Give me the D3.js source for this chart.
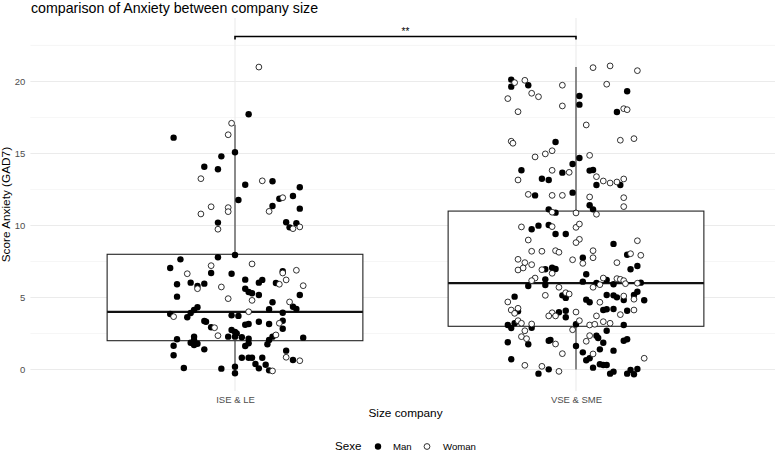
<!DOCTYPE html>
<html>
<head>
<meta charset="utf-8">
<script src="https://cdn.jsdelivr.net/npm/d3@7"></script>
<style>
  body { margin: 0; background: #fff; }
  svg { font-family: "Liberation Sans", Arial, sans-serif; }
</style>
</head>
<body>
<div id="chart"></div>
<script>
// categories and summary stats of the boxplots
const groups = ["ISE & LE", "VSE & SME"];
const q1 = [2, 3];
const medians = [4, 6];
const q3 = [8, 11];
const whiskerLow = [0, 0];
const whiskerHigh = [17, 21];
const yTicks = [0, 5, 10, 15, 20];
const yMinorTicks = [2.5, 7.5, 12.5, 17.5, 22.5];
const sexes = ["Man", "Woman"];
const signif = "**";

// jittered points: [jitter offset (category units), score]
const iseMan = [
  [0.04, 17.72], [-0.18, 16.1], [0.00, 15.08], [-0.04, 14.8], [-0.09, 14.08], [-0.05, 13.9],
  [0.11, 13.07], [0.03, 12.83], [0.19, 12.65], [0.17, 12.05], [0.13, 11.86], [0.01, 11.77],
  [0.11, 11.35], [0.19, 11.17], [-0.05, 10.2], [0.15, 10.22], [0.16, 9.87], [0.18, 10.15],
  [0.00, 7.95], [-0.16, 7.65], [-0.05, 7.79], [-0.19, 7.05], [-0.07, 6.70], [-0.01, 6.65],
  [0.14, 6.82], [0.03, 6.24], [-0.17, 5.92], [-0.13, 6.03], [-0.11, 5.80], [-0.09, 5.96],
  [0.07, 6.03], [0.08, 6.22], [0.12, 6.01], [0.03, 5.61], [0.04, 5.38], [0.05, 5.29],
  [0.07, 5.17], [-0.17, 5.06], [0.19, 5.17], [0.11, 4.67], [0.17, 4.36], [0.18, 4.20],
  [0.10, 4.18], [-0.11, 4.32], [-0.12, 4.13], [-0.13, 3.92], [-0.14, 3.63], [-0.19, 3.85],
  [-0.01, 3.76], [0.01, 3.72], [0.14, 3.94], [0.14, 3.39], [0.07, 3.32], [0.10, 3.16],
  [0.14, 2.83], [-0.09, 3.37], [-0.085, 3.32], [-0.07, 2.93], [0.03, 3.11], [0.04, 3.16],
  [-0.01, 2.74], [0.00, 2.60], [0.005, 2.51], [-0.02, 2.28], [0.00, 2.28], [0.02, 2.24],
  [0.04, 2.14], [0.11, 2.28], [0.10, 2.05], [0.095, 1.75], [0.20, 2.21], [-0.17, 2.10],
  [-0.12, 2.28], [-0.12, 2.05], [-0.13, 1.86], [-0.12, 1.70], [-0.11, 1.79], [-0.18, 1.65],
  [-0.09, 1.40], [0.03, 1.63], [0.04, 1.82], [-0.18, 0.99], [0.15, 1.31], [0.17, 0.66],
  [0.02, 0.82], [0.04, 0.82], [0.05, 0.82], [0.08, 0.82], [0.06, 0.38], [0.07, 0.08],
  [0.09, 0.33], [0.10, -0.06], [-0.15, 0.10], [-0.04, 0.06], [0.00, 0.19], [0.00, -0.26]
];
const iseWoman = [
  [0.07, 21.0], [-0.01, 17.1], [-0.02, 16.3], [-0.10, 13.25], [0.08, 13.1], [0.14, 11.93],
  [-0.07, 11.3], [-0.02, 11.24], [-0.02, 10.96], [0.10, 10.98], [-0.10, 10.8], [-0.05, 9.74],
  [0.17, 9.78], [0.19, 9.9], [-0.07, 7.21], [0.05, 7.33], [-0.14, 6.65], [0.14, 6.70],
  [0.18, 6.89], [0.15, 6.22], [-0.11, 5.61], [-0.04, 5.73], [0.13, 5.92], [0.20, 5.82],
  [-0.02, 4.92], [0.05, 4.80], [0.16, 4.69], [0.04, 4.01], [-0.18, 3.67], [0.13, 3.21],
  [-0.06, 2.90], [-0.05, 2.35], [0.12, 2.40], [0.15, 0.85], [0.19, 0.61], [0.11, -0.10]
];
const vseMan = [
  [-0.19, 20.13], [-0.19, 19.64], [-0.14, 19.74], [0.15, 19.32], [0.01, 18.99], [0.01, 18.39],
  [0.12, 17.88], [-0.06, 15.80], [0.01, 14.69], [-0.01, 14.27], [-0.16, 13.83], [-0.04, 13.67],
  [0.04, 13.81], [0.05, 13.85], [-0.10, 13.25], [-0.08, 13.16], [0.06, 12.81], [0.13, 12.81],
  [-0.12, 12.09], [-0.01, 12.28], [0.04, 11.40], [0.05, 11.12], [-0.08, 11.12], [-0.06, 10.89],
  [-0.13, 9.74], [-0.11, 9.99], [-0.08, 10.03], [-0.06, 9.41], [-0.03, 9.41], [0.11, 8.72],
  [0.15, 7.97], [0.02, 7.76], [0.18, 7.19], [0.16, 6.96], [-0.09, 6.96], [-0.07, 7.07],
  [-0.06, 6.98], [0.03, 6.61], [-0.09, 6.26], [-0.09, 5.87], [-0.14, 5.80], [0.02, 6.10],
  [0.06, 6.01], [0.09, 6.22], [0.11, 5.92], [0.19, 6.03], [-0.04, 5.15], [-0.03, 4.97],
  [-0.18, 5.06], [0.03, 4.85], [0.04, 4.67], [0.09, 5.17], [0.11, 5.15], [0.12, 5.01],
  [0.18, 5.40], [0.17, 5.17], [0.20, 4.81], [0.14, 4.83], [-0.17, 4.04], [-0.05, 3.97],
  [-0.03, 4.08], [-0.03, 3.63], [0.08, 4.13], [0.09, 4.18], [0.11, 4.20], [0.15, 4.08],
  [-0.20, 3.09], [-0.19, 2.88], [-0.18, 3.21], [-0.13, 2.90], [0.00, 3.14], [0.14, 3.09],
  [0.09, 2.69], [-0.14, 1.75], [-0.20, 1.89], [-0.08, 2.00], [-0.075, 2.05], [0.06, 2.35],
  [0.065, 2.19], [0.08, 1.86], [0.00, 1.63], [0.07, 1.40], [0.11, 1.31], [0.14, 2.00],
  [0.15, 2.10], [0.02, 1.19], [0.04, 0.78], [0.03, 0.64], [-0.19, 0.71], [-0.11, -0.29],
  [-0.08, 0.01], [0.05, 0.13], [0.07, 0.36], [0.08, 0.31], [0.09, 0.31], [0.10, -0.29],
  [0.11, -0.15], [0.15, -0.29], [0.16, -0.03], [0.17, -0.33], [0.18, 0.03]
];
const vseWoman = [
  [0.05, 20.96], [0.10, 21.08], [0.18, 20.75], [-0.18, 19.92], [-0.15, 20.08], [-0.04, 19.74],
  [0.09, 19.81], [-0.13, 19.18], [-0.11, 18.94], [-0.20, 18.81], [-0.04, 18.30], [-0.17, 17.90],
  [0.14, 18.11], [0.15, 18.04], [0.03, 16.98], [-0.19, 15.85], [-0.185, 15.71], [0.13, 15.92],
  [0.17, 16.03], [-0.07, 15.19], [-0.09, 14.97], [-0.12, 14.76], [0.04, 14.87], [-0.07, 13.83],
  [-0.02, 13.69], [-0.17, 13.16], [0.06, 13.39], [0.08, 13.09], [0.10, 12.95], [0.12, 13.02],
  [0.14, 13.23], [-0.14, 12.16], [-0.07, 12.09], [-0.04, 12.09], [0.04, 11.98], [0.14, 11.93],
  [0.14, 11.31], [0.06, 10.78], [-0.07, 10.92], [0.00, 10.87], [-0.16, 9.90], [-0.07, 9.92],
  [0.00, 9.87], [0.01, 10.10], [-0.14, 8.99], [0.01, 9.04], [0.00, 8.81], [0.18, 8.94],
  [-0.13, 8.21], [-0.10, 8.21], [-0.06, 8.25], [-0.05, 8.14], [0.05, 8.25], [0.05, 7.76],
  [0.16, 8.04], [0.19, 7.93], [-0.01, 7.62], [0.02, 7.37], [-0.17, 7.65], [-0.15, 7.42],
  [-0.13, 7.28], [0.12, 7.42], [-0.17, 6.91], [-0.155, 7.05], [-0.10, 6.93], [-0.07, 6.68],
  [-0.12, 6.35], [-0.13, 6.17], [0.05, 5.71], [0.07, 5.89], [0.08, 6.35], [0.12, 6.31],
  [0.13, 6.26], [0.14, 6.17], [0.145, 5.96], [0.18, 5.99], [-0.05, 5.71], [-0.09, 5.15],
  [-0.03, 5.33], [-0.02, 5.24], [-0.20, 4.69], [0.07, 4.67], [0.14, 5.10], [0.17, 4.88],
  [-0.19, 4.13], [-0.17, 4.25], [-0.18, 3.90], [-0.07, 3.94], [-0.08, 3.72], [-0.06, 3.72],
  [0.00, 3.99], [0.17, 4.13], [0.13, 3.81], [0.06, 3.72], [-0.17, 3.39], [-0.16, 3.21],
  [-0.13, 3.16], [0.01, 3.39], [0.04, 3.09], [0.055, 3.14], [0.08, 3.32], [0.10, 3.21],
  [-0.01, 2.76], [-0.15, 2.69], [-0.16, 2.28], [-0.145, 2.14], [-0.06, 1.77], [0.04, 2.35],
  [0.03, 1.96], [-0.04, 1.10], [0.05, 1.08], [0.20, 0.78], [-0.15, 0.29], [-0.10, 0.22],
  [-0.05, -0.13]
];

const width = 781, height = 453;
const panel = { left: 30.4, right: 780.6, top: 18.1, bottom: 391.1 };
const gridRight = 775;

const svg = d3.select("#chart").append("svg")
  .attr("width", width).attr("height", height);

const x = d3.scaleLinear().domain([0.4, 2.6]).range([panel.left, panel.right]);
const y = d3.scaleLinear().domain([-1.5, 24.4]).range([panel.bottom, panel.top]);
const boxW = 0.75;

// grid
const gridG = svg.append("g");
gridG.selectAll("line.minor").data(yMinorTicks).join("line")
  .attr("x1", panel.left).attr("x2", gridRight)
  .attr("y1", d => y(d)).attr("y2", d => y(d))
  .attr("stroke", "#f0f0f0").attr("stroke-width", 0.6);
gridG.selectAll("line.major").data(yTicks).join("line")
  .attr("x1", panel.left).attr("x2", gridRight)
  .attr("y1", d => y(d)).attr("y2", d => y(d))
  .attr("stroke", "#ebebeb").attr("stroke-width", 1.1);
gridG.selectAll("line.vert").data(groups).join("line")
  .attr("x1", (d, i) => x(i + 1)).attr("x2", (d, i) => x(i + 1))
  .attr("y1", panel.top).attr("y2", panel.bottom)
  .attr("stroke", "#ebebeb").attr("stroke-width", 1.1);

// y axis
const yAxis = svg.append("g")
  .attr("transform", `translate(${panel.left},0)`)
  .call(d3.axisLeft(y).tickValues(yTicks).tickSize(0).tickPadding(5));
yAxis.select(".domain").remove();
yAxis.selectAll("text").attr("fill", "#4d4d4d").attr("font-size", "9.5px")
  .attr("font-family", "Liberation Sans, Arial, sans-serif");

// x axis
const xAxis = svg.append("g")
  .attr("transform", `translate(0,${panel.bottom})`)
  .call(d3.axisBottom(x).tickValues([1, 2]).tickFormat((d) => groups[d - 1]).tickSize(0).tickPadding(5));
xAxis.select(".domain").remove();
xAxis.selectAll("text").attr("fill", "#4d4d4d").attr("font-size", "9.5px")
  .attr("font-family", "Liberation Sans, Arial, sans-serif");

// boxplots
const boxG = svg.append("g");
groups.forEach((g, i) => {
  const cx = x(i + 1);
  const x0 = x(i + 1 - boxW / 2), x1 = x(i + 1 + boxW / 2);
  boxG.append("line").attr("x1", cx).attr("x2", cx)
    .attr("y1", y(whiskerHigh[i])).attr("y2", y(q3[i]))
    .attr("stroke", "#333").attr("stroke-width", 1.1);
  boxG.append("line").attr("x1", cx).attr("x2", cx)
    .attr("y1", y(q1[i])).attr("y2", y(whiskerLow[i]))
    .attr("stroke", "#333").attr("stroke-width", 1.1);
  boxG.append("rect").attr("x", x0).attr("width", x1 - x0)
    .attr("y", y(q3[i])).attr("height", y(q1[i]) - y(q3[i]))
    .attr("fill", "white").attr("stroke", "#222").attr("stroke-width", 1.1);
  boxG.append("line").attr("x1", x0).attr("x2", x1)
    .attr("y1", y(medians[i])).attr("y2", y(medians[i]))
    .attr("stroke", "#111").attr("stroke-width", 2.3);
});

// jittered points
const pointsG = svg.append("g");
const series = [
  { g: 1, sex: "Man", pts: iseMan }, { g: 1, sex: "Woman", pts: iseWoman },
  { g: 2, sex: "Man", pts: vseMan }, { g: 2, sex: "Woman", pts: vseWoman },
];
series.forEach(s => {
  pointsG.selectAll(null).data(s.pts).join("circle")
    .attr("cx", d => x(s.g + d[0]))
    .attr("cy", d => y(d[1]))
    .attr("r", s.sex === "Man" ? 3.2 : 2.9)
    .attr("fill", s.sex === "Man" ? "#000" : "#fff")
    .attr("stroke", "#000")
    .attr("stroke-width", s.sex === "Man" ? 0 : 0.8);
});

// significance bracket
const brY = 36.5;
svg.append("path")
  .attr("d", `M${x(1)},${brY + 3}V${brY}H${x(2)}V${brY + 3}`)
  .attr("fill", "none").attr("stroke", "#000").attr("stroke-width", 1.6);
svg.append("text")
  .attr("x", (x(1) + x(2)) / 2).attr("y", brY - 2)
  .attr("text-anchor", "middle").attr("font-size", "10px")
  .text(signif);

// titles
svg.append("text").attr("x", 31).attr("y", 13)
  .attr("font-size", "14.2px").attr("fill", "#000")
  .text("comparison of Anxiety between company size");
svg.append("text")
  .attr("transform", `translate(10,${(y(-1.5) + y(24.4)) / 2}) rotate(-90)`)
  .attr("text-anchor", "middle").attr("font-size", "11.8px")
  .text("Score Anxiety (GAD7)");
svg.append("text").attr("x", (x(1) + x(2)) / 2).attr("y", 417)
  .attr("text-anchor", "middle").attr("font-size", "11.8px")
  .text("Size company");

// legend
const legendG = svg.append("g").attr("transform", "translate(335,446.5)");
legendG.append("text").attr("x", 0).attr("y", 3.8).attr("font-size", "11.6px").text("Sexe");
const legendItems = [
  { label: sexes[0], dx: 43, tx: 58 },
  { label: sexes[1], dx: 92, tx: 108 },
];
legendItems.forEach((it, i) => {
  legendG.append("circle").attr("cx", it.dx).attr("cy", 0)
    .attr("r", i === 0 ? 3.2 : 2.9)
    .attr("fill", i === 0 ? "#000" : "#fff")
    .attr("stroke", "#000").attr("stroke-width", i === 0 ? 0 : 0.8);
  legendG.append("text").attr("x", it.tx).attr("y", 3.4)
    .attr("font-size", "9.6px").attr("fill", "#000").text(it.label);
});
</script>
</body>
</html>
